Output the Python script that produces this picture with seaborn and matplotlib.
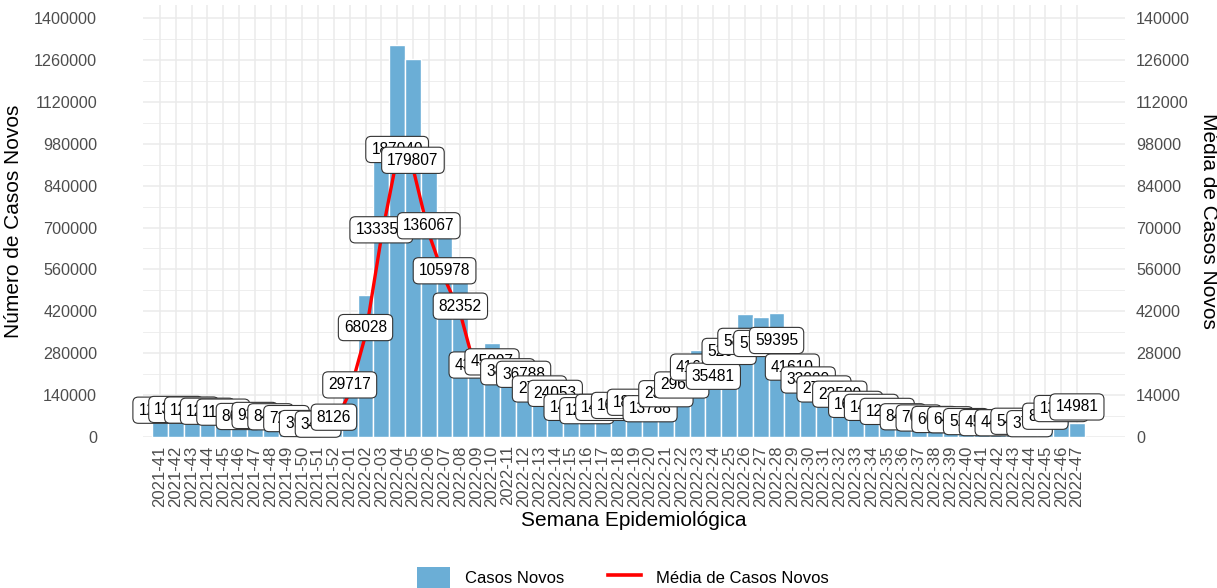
import matplotlib
matplotlib.use("Agg")
import matplotlib.pyplot as plt
import seaborn as sns
import pandas as pd
import numpy as np
from matplotlib.patches import Patch
from matplotlib.lines import Line2D

semanas = ([f"2021-{w}" for w in range(41, 53)] +
           [f"2022-{w:02d}" for w in range(1, 48)])

casos_novos = [89000, 93000, 90000, 85000, 80500, 60000, 65000, 59000, 50500, 27000,
               24300, 56900, 208000, 476000, 930000, 1309000, 1262000, 890000, 742000, 576000,
               290000, 315000, 269000, 257500, 189000, 168000, 104000, 87500, 103000, 112000,
               126700, 96500, 166800, 207700, 291000, 248400, 364600, 412000, 402000, 415800,
               294000, 231000, 189000, 164500, 117000, 103000, 84000, 58800, 53200, 46200,
               44800, 36400, 31500, 30800, 37800, 26500, 61400, 95000, 47000]

media_casos = [12800, 13300, 12900, 12100, 11500, 8600, 9300, 8400, 7200, 3900,
               3466, 8126, 29717, 68028, 133350, 187040, 179807, 136067, 105978, 82352,
               43000, 45097, 38488, 36788, 27000, 24053, 14700, 12500, 14700, 16000,
               18100, 13788, 23823, 29665, 41600, 35481, 52087, 58800, 57400, 59395,
               41610, 33000, 27015, 23500, 16700, 14700, 12000, 8400, 7600, 6600,
               6400, 5200, 4500, 4400, 5400, 3788, 8766, 13900, 14981]

FATOR_LINHA = 5          # escala da linha de média no eixo primário
yticks = list(range(0, 1400001, 140000))

df = pd.DataFrame({"semana": semanas, "casos": casos_novos, "media": media_casos})
df["pos"] = np.arange(len(df))
df["media_plot"] = df["media"] * FATOR_LINHA

plt.rcParams["font.family"] = ["Liberation Sans", "DejaVu Sans"]

fig = plt.figure(figsize=(12.17, 5.88), dpi=100)
ax = fig.add_axes([143 / 1217, (588 - 437) / 588, (1125 - 143) / 1217, 432 / 588])

grid_c = "#EBEBEB"
ax.set_axisbelow(True)
sns.barplot(data=df, x="pos", y="casos", color="#6BAED6", width=1.0,
            edgecolor="white", linewidth=1.0, ax=ax, saturation=1, zorder=2)
sns.lineplot(data=df, x="pos", y="media_plot", color="#FF0000", linewidth=2.4,
             ax=ax, zorder=3, legend=False)

for i, (m, mp) in enumerate(zip(df["media"], df["media_plot"])):
    ax.annotate(str(m), xy=(i, mp), xytext=(0, 5.5), textcoords="offset points",
                ha="center", va="center", fontsize=11.2, color="black", zorder=5,
                bbox=dict(boxstyle="round,pad=0.36,rounding_size=0.35", fc="white",
                          ec="#333333", lw=0.8))

ax.set_xlim(-1.075, 61.04)
ax.set_ylim(0, 1443500)
ax.set_yticks(yticks)
ax.set_yticklabels([str(v) for v in yticks])
ax.set_yticks([v + 70000 for v in yticks[:-1]], minor=True)
ax.set_xticks(range(len(semanas)))
ax.set_xticklabels(semanas, rotation=90)
ax.tick_params(axis="both", which="both", length=0, labelsize=12, labelcolor="#4D4D4D")
ax.tick_params(axis="y", labelsize=11.6, pad=33)
ax.tick_params(axis="x", pad=6)
ax.grid(True, which="major", color=grid_c, lw=1.1)
ax.grid(True, which="minor", axis="y", color=grid_c, lw=0.6)
for s in ax.spines.values():
    s.set_visible(False)
ax.set_xlabel("Semana Epidemiológica", fontsize=15, color="black", labelpad=3)
ax.set_ylabel("Número de Casos Novos", fontsize=15, color="black", labelpad=8)

ax2 = ax.twinx()
ax2.set_ylim(ax.get_ylim())
ax2.set_yticks(yticks)
ax2.set_yticklabels([str(v // 10) for v in yticks])
ax2.tick_params(axis="y", which="both", length=0, labelsize=11.6, labelcolor="#4D4D4D", pad=8)
for s in ax2.spines.values():
    s.set_visible(False)
ax2.set_ylabel("Média de Casos Novos", fontsize=15, color="black", rotation=270,
               labelpad=20)

handles = [Patch(facecolor="#6BAED6", edgecolor="none", label="Casos Novos"),
           Line2D([0], [0], color="#FF0000", lw=2.6, label="Média de Casos Novos")]
fig.legend(handles=handles, loc="center", bbox_to_anchor=(0.512, 0.017), ncol=2,
           frameon=False, fontsize=12, handlelength=2.0, handleheight=1.6,
           columnspacing=2.6, handletextpad=0.9)

fig.savefig("out.png", dpi=100, facecolor="white")
